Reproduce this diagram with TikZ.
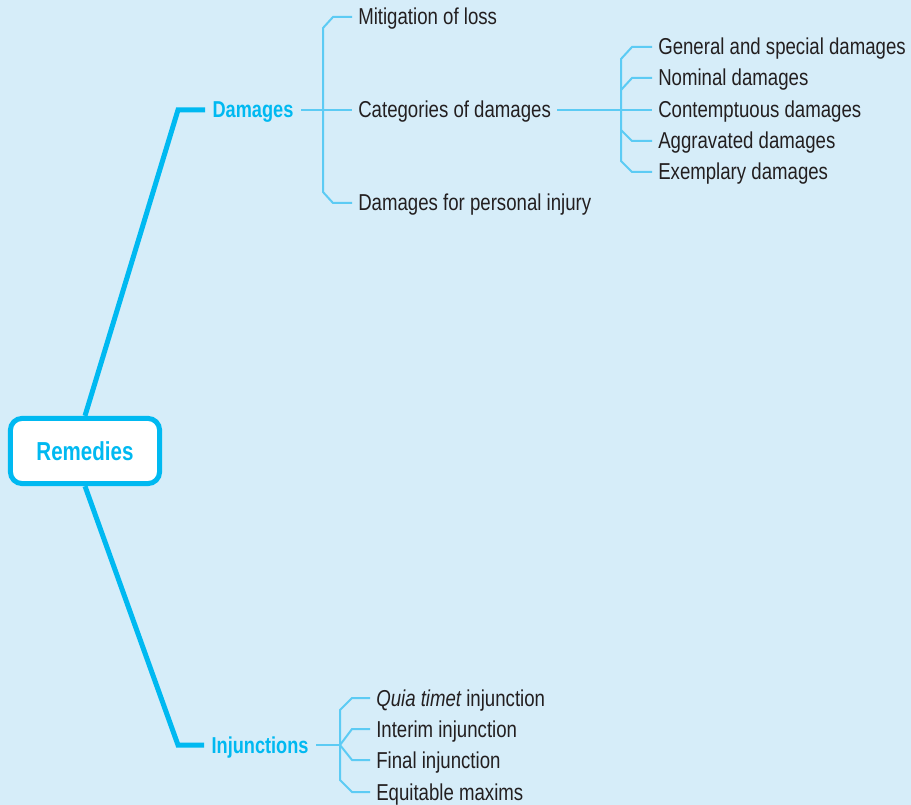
\documentclass[tikz,border=0pt]{standalone}
\usepackage{fontspec}
\setmainfont{Liberation Sans}[FakeStretch=0.81]
\newfontfamily\labelfont{Liberation Sans}[FakeStretch=0.79]
\definecolor{mapbg}{HTML}{D6EDF9}
\definecolor{mapcyan}{HTML}{00B9F1}
\definecolor{maplight}{HTML}{5CCBF4}
\definecolor{maptext}{HTML}{231F20}

\begin{document}
\begin{tikzpicture}
 [x=0.75pt, y=-0.75pt,
  root node/.style={draw=mapcyan, line width=3.75pt, fill=white, rounded corners=9pt, minimum width=112pt, minimum height=49pt, inner sep=0pt, text=mapcyan, font=\labelfont\bfseries\fontsize{19.5}{22}\selectfont},
  main node/.style={anchor=west, inner xsep=5.5pt, inner ysep=0pt, text height=15.5pt, text depth=3.5pt, text=mapcyan, font=\labelfont\bfseries\fontsize{17.25}{20}\selectfont},
  normal node/.style={anchor=west, inner xsep=4.5pt, inner ysep=0pt, text height=15.5pt, text depth=3.5pt, text=maptext, font=\fontsize{17.25}{20}\selectfont},
  main line/.style={draw=mapcyan, line width=3.75pt},
  sub line/.style={draw=maplight, line width=1.5pt}]

\path[fill=mapbg, use as bounding box] (0,0) rectangle (911,805);

\node[root node] (rem) at (85,451) {Remedies};
\node[main node] (dam) at (205,110) {Damages};
\node[main node] (inj) at (204,745) {Injunctions};

% damages
\node[normal node] (mit) at (352,17) {Mitigation of loss};
\node[normal node] (cat) at (352,110) {Categories of damages};
\node[normal node] (per) at (352,203) {Damages for personal injury};

\node[normal node] (gen) at (652,47) {General and special damages};
\node[normal node] (nom) at (652,78) {Nominal damages};
\node[normal node] (con) at (652,110) {Contemptuous damages};
\node[normal node] (agg) at (652,141) {Aggravated damages};
\node[normal node] (exe) at (652,172) {Exemplary damages};

% injunctions
\node[normal node] (quia) at (370,698) {\itshape Quia timet\upshape\ injunction};
\node[normal node] (inte) at (370,729) {Interim injunction};
\node[normal node] (fin) at (370,760) {Final injunction};
\node[normal node] (equ) at (370,792) {Equitable maxims};
\coordinate (ifork) at (340,745);

\draw[main line] (rem.north) -- (178,110) -- (dam.west);
\draw[main line] (rem.south) -- (178,745) -- (inj.west);

\draw[sub line] (dam) -- (cat);
\draw[sub line] (mit.west) -- ++(-19,0) -- ++(-10,11) -- (323,192) -- ++(10,11) -- (per.west);

\draw[sub line] (cat) -- (con);
\draw[sub line] (gen.west) -- ++(-20,0) -- ++(-11,12) -- (621,161) -- ++(11,11) -- (exe.west);
\draw[sub line] (nom.west) -- ++(-20,0) -- ++(-11,12);
\draw[sub line] (agg.west) -- ++(-20,0) -- ++(-11,-11);

\draw[sub line] (inj) -- (ifork);
\draw[sub line] (quia.west) -- ++(-18,0) -- ++(-12,12) -- (340,780) -- ++(12,12) -- (equ.west);
\draw[sub line] (inte.west) -- ++(-18,0) -- (ifork) -- (352,760) -- (fin.west);

\end{tikzpicture}
\end{document}
